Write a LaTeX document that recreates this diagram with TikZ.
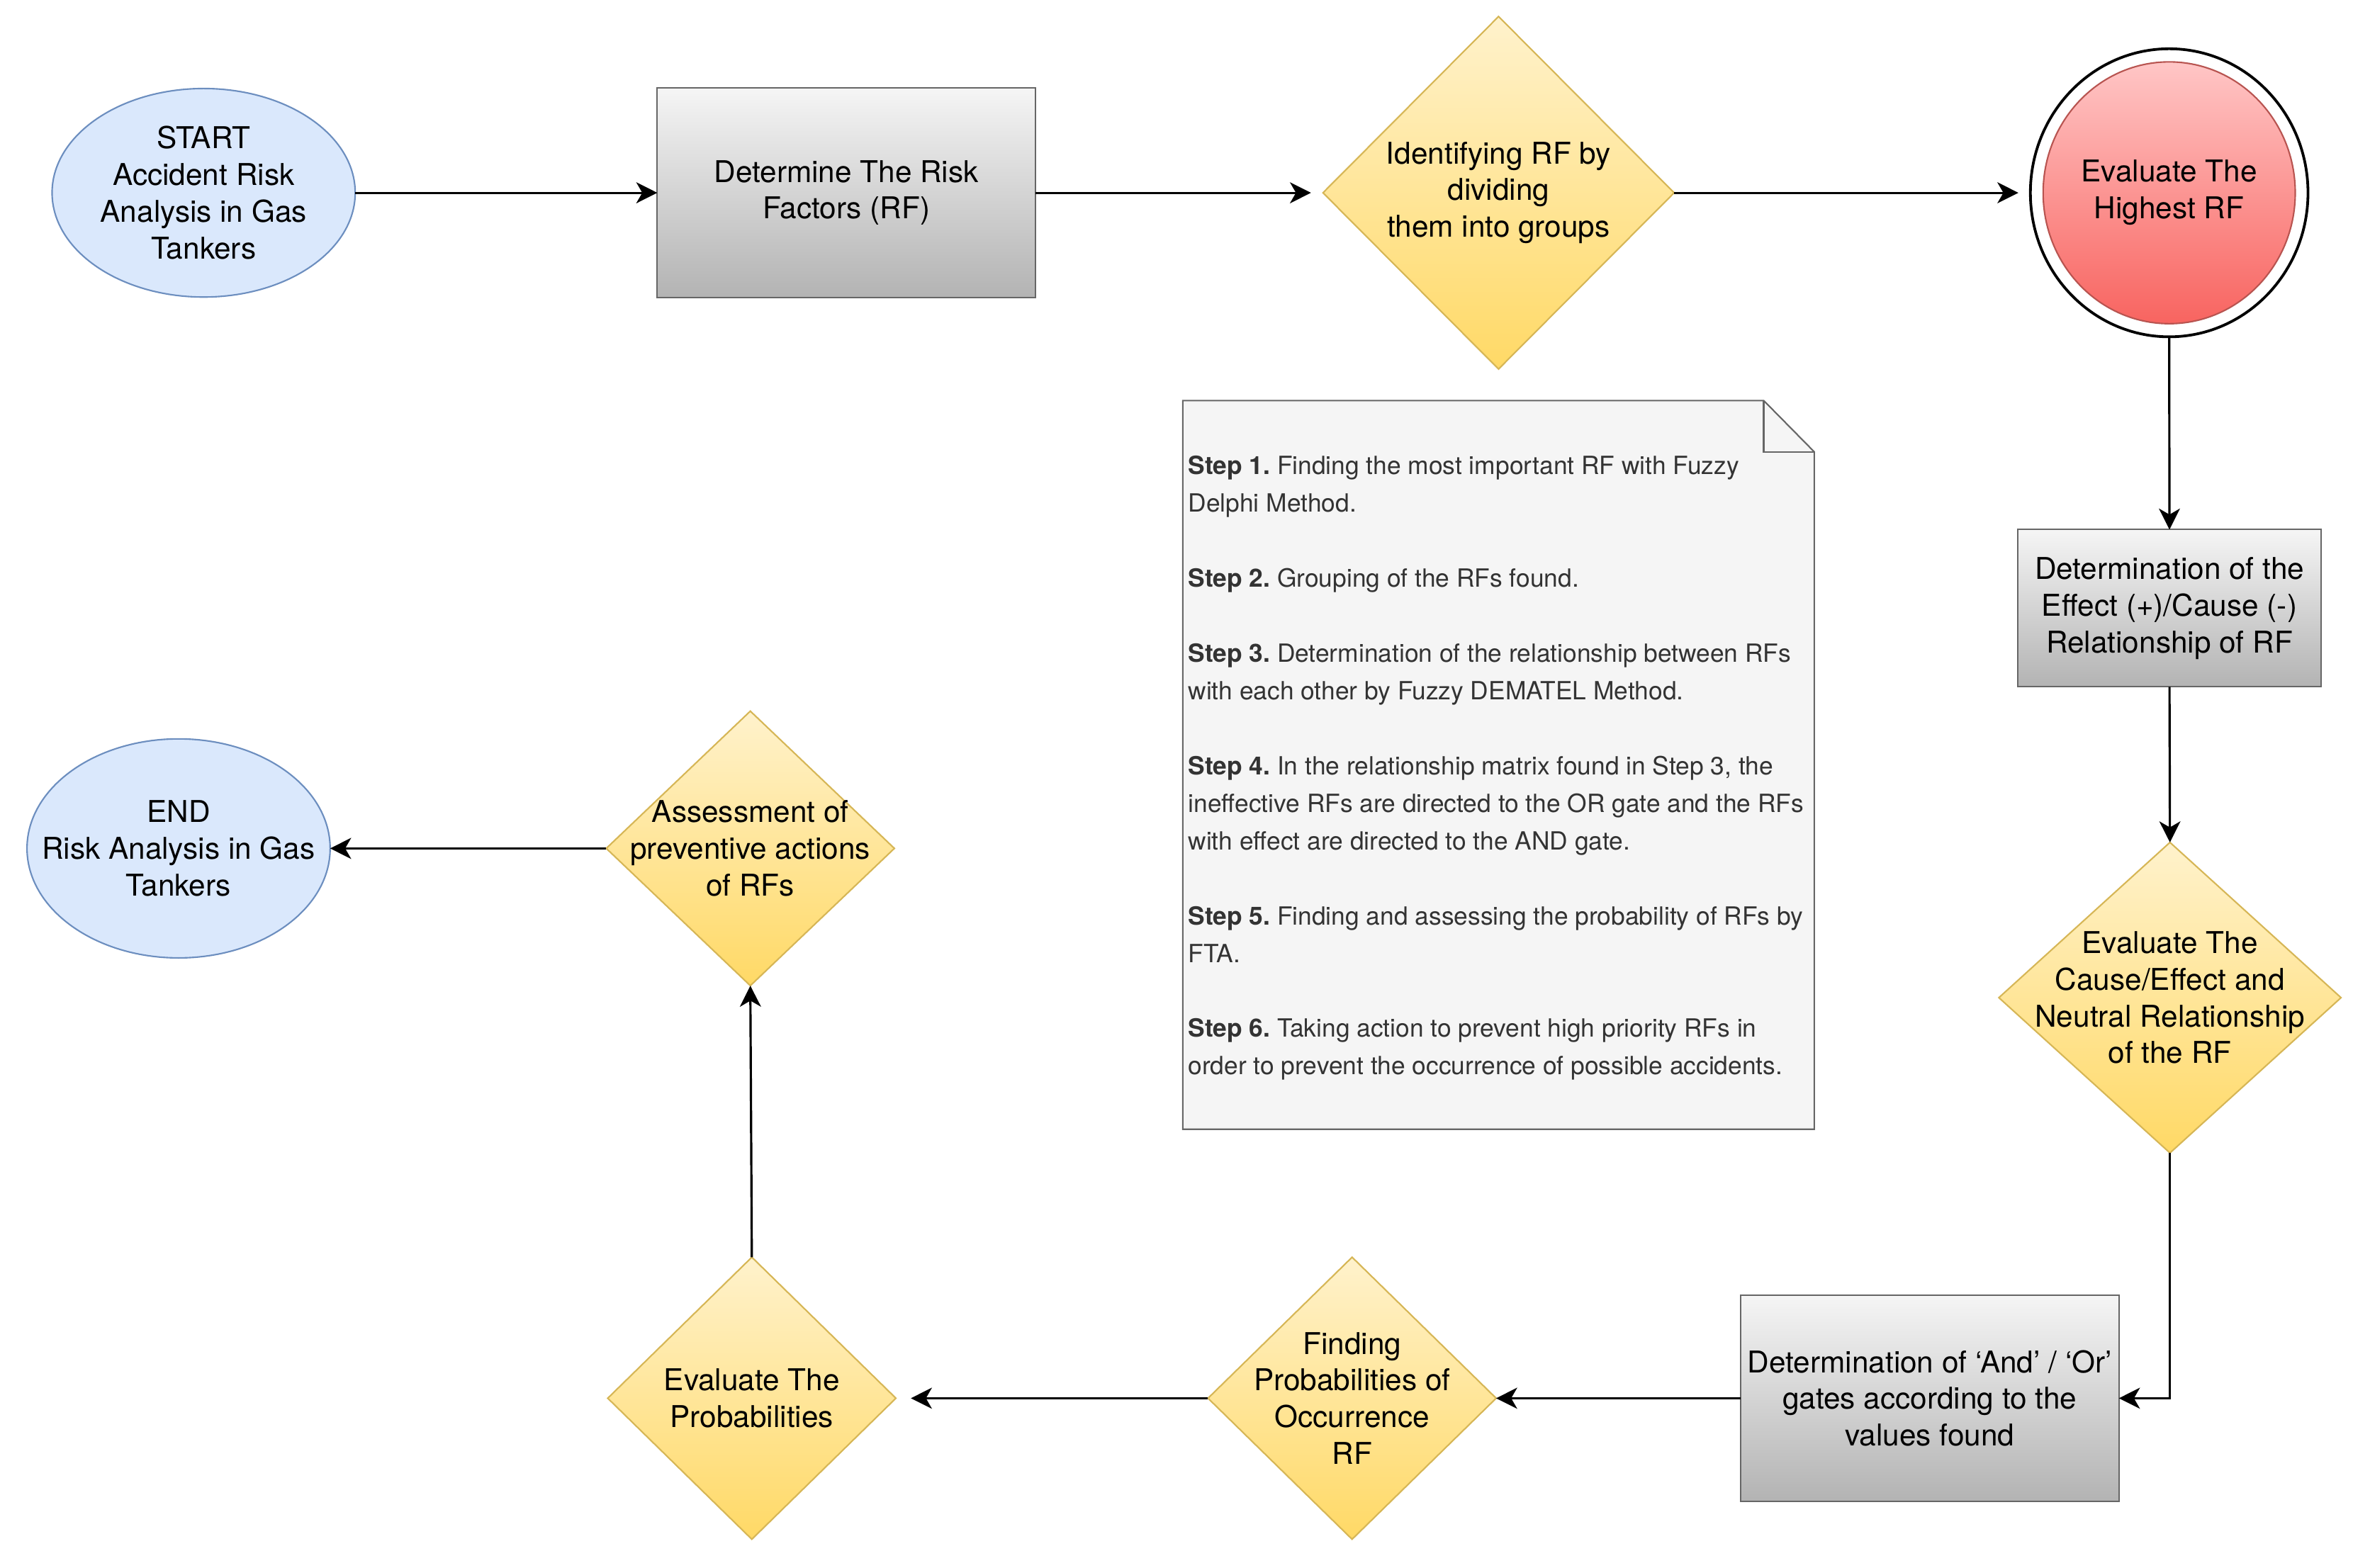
\documentclass[tikz,border=0pt]{standalone}
\usepackage{fontspec}
\setmainfont{TeX Gyre Heros}
\usetikzlibrary{shapes.geometric,arrows.meta}
\definecolor{bluefill}{HTML}{DAE8FC}
\definecolor{bluedraw}{HTML}{6C8EBF}
\definecolor{greytop}{HTML}{F5F5F5}
\definecolor{greybot}{HTML}{B3B3B3}
\definecolor{greydraw}{HTML}{666666}
\definecolor{yeltop}{HTML}{FFF2CC}
\definecolor{yelbot}{HTML}{FFD966}
\definecolor{yeldraw}{HTML}{D6B656}
\definecolor{redtop}{HTML}{FFC6C6}
\definecolor{redbot}{HTML}{F86460}
\definecolor{reddraw}{HTML}{B85450}
\definecolor{notefill}{HTML}{F5F5F5}
\definecolor{notetext}{HTML}{333333}
\frenchspacing
\begin{document}
\begin{tikzpicture}[x=1pt,y=-1pt,
  every node/.style={inner sep=0pt, outer sep=0pt},
  txt/.style={align=center, font=\fontsize{20}{24.5}\selectfont},
  termnode/.style={ellipse, draw=bluedraw, fill=bluefill, line width=1pt},
  procbox/.style={rectangle, draw=greydraw, line width=1pt, top color=greytop, bottom color=greybot, txt},
  decide/.style={diamond, draw=yeldraw, line width=1pt, top color=yeltop, bottom color=yelbot},
  flow/.style={-{Stealth[length=14pt,width=14pt,inset=4pt]}, line width=1.5pt},
]
\useasboundingbox (0,0) rectangle (1568,1044.7);

% top row
\node[termnode, minimum width=202, minimum height=139] (start) at (135.7,128.5) {};
\node[txt] (startt) at (start.center) {START\\Accident Risk\\Analysis in Gas\\Tankers};
\node[procbox, minimum width=252, minimum height=139.5] (det) at (564,128.5)
  {Determine The Risk\\Factors (RF)};
\node[decide, minimum width=234, minimum height=235] (ident) at (998.6,128.5) {};
\node[txt] (identt) at (ident.center) {Identifying RF by\\dividing\\them into groups};
\node[ellipse, draw=black, fill=white, line width=1.8pt, minimum width=185, minimum height=192] (high) at (1445.5,128.5) {};
\node[ellipse, draw=reddraw, line width=1pt, top color=redtop, bottom color=redbot,
  minimum width=168, minimum height=174.5, txt] (highin) at (high.center) {Evaluate The\\Highest RF};

% right column
\node[procbox, minimum width=202, minimum height=104.8] (eff) at (1445.7,405.4)
  {Determination of the\\Effect (+)/Cause (-)\\Relationship of RF};
\node[decide, minimum width=228, minimum height=207] (ce) at (1446,665) {};
\node[txt] (cet) at (ce.center) {Evaluate The\\Cause/Effect and\\Neutral Relationship\\of the RF};

% bottom row
\node[procbox, minimum width=252, minimum height=137.2] (andor) at (1286,932)
  {Determination of ‘And’ / ‘Or’\\gates according to the\\values found};
\node[decide, minimum width=192, minimum height=188] (find) at (901,932) {};
\node[txt] (findt) at (find.center) {Finding\\Probabilities of\\Occurrence\\RF};
\node[decide, minimum width=192, minimum height=188] (evp) at (501,932) {};
\node[txt] (evpt) at (evp.center) {Evaluate The\\Probabilities};

% left column
\node[decide, minimum width=192, minimum height=183] (assess) at (500,565.5) {};
\node[txt] (assesst) at (assess.center) {Assessment of\\preventive actions\\of RFs};
\node[termnode, minimum width=202, minimum height=146] (end) at (119,565.5) {};
\node[txt] (endt) at (end.center) {END\\Risk Analysis in Gas\\Tankers};

% note
\draw[draw=greydraw, fill=notefill, line width=1pt]
  (788.2,267) -- (1175.3,267) -- (1209,301.2) -- (1209,752.7) -- (788.2,752.7) -- cycle;
\draw[greydraw, line width=1pt] (1175.3,267) -- (1175.3,301.2) -- (1209,301.2);
\node[anchor=west, align=left, text=notetext, font=\fontsize{16.7}{25}\selectfont] (notetxt) at (791.8,512)
  {\textbf{Step 1.} Finding the most important RF with Fuzzy\\
   Delphi Method.\\[25pt]
   \textbf{Step 2.} Grouping of the RFs found.\\[25pt]
   \textbf{Step 3.} Determination of the relationship between RFs\\
   with each other by Fuzzy DEMATEL Method.\\[25pt]
   \textbf{Step 4.} In the relationship matrix found in Step 3, the\\
   ineffective RFs are directed to the OR gate and the RFs\\
   with effect are directed to the AND gate.\\[25pt]
   \textbf{Step 5.} Finding and assessing the probability of RFs by\\
   FTA.\\[25pt]
   \textbf{Step 6.} Taking action to prevent high priority RFs in\\
   order to prevent the occurrence of possible accidents.};

% connectors
\draw[flow] (start.east) -- (det.west);
\draw[flow, shorten >=8pt] (det.east) -- (ident.west);
\draw[flow, shorten >=8pt] (ident.east) -- (high.west);
\draw[flow] (high.south) -- (eff.north);
\draw[flow] (eff.south) -- (ce.north);
\draw[flow] (ce.south) |- (andor.east);
\draw[flow] (andor.west) -- (find.east);
\draw[flow, shorten >=10pt] (find.west) -- (evp.east);
\draw[flow] (evp.north) -- (assess.south);
\draw[flow] (assess.west) -- (end.east);
\end{tikzpicture}
\end{document}
